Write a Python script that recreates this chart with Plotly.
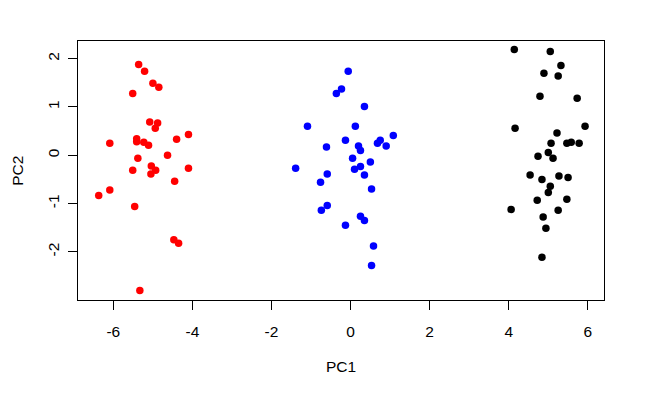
import plotly.graph_objects as go

red_x = [-5.36, -5.21, -5.00, -4.85, -5.51, -5.08, -4.88, -4.94, -4.10, -4.40,
         -6.09, -5.41, -5.41, -5.23, -5.11, -4.63, -5.38, -5.04, -4.93, -5.51,
         -5.05, -4.10, -4.45, -6.09, -6.37, -5.46, -4.47, -4.35, -5.33]
red_y = [1.88, 1.74, 1.49, 1.41, 1.28, 0.69, 0.67, 0.56, 0.43, 0.33,
         0.25, 0.34, 0.28, 0.27, 0.21, 0.00, -0.06, -0.22, -0.31, -0.31,
         -0.39, -0.27, -0.54, -0.72, -0.83, -1.06, -1.75, -1.82, -2.80]

blue_x = [-0.06, -0.23, -0.36, 0.35, -1.09, 0.12, 1.08, -0.13, 0.75, 0.68,
          0.90, -0.61, 0.20, 0.25, 0.05, 0.50, -1.39, 0.25, 0.10, -0.59,
          0.35, -0.76, 0.53, -0.59, -0.74, 0.25, 0.35, -0.13, 0.58, 0.53]
blue_y = [1.74, 1.37, 1.28, 1.01, 0.60, 0.60, 0.41, 0.31, 0.31, 0.25,
          0.19, 0.17, 0.19, 0.10, -0.06, -0.14, -0.27, -0.23, -0.29, -0.39,
          -0.41, -0.56, -0.70, -1.04, -1.14, -1.26, -1.35, -1.45, -1.88, -2.28]

black_x = [4.14, 5.05, 5.32, 4.89, 5.25, 4.79, 5.73, 4.16, 5.93, 5.22,
           5.07, 5.47, 5.58, 5.78, 5.00, 4.74, 5.12, 4.54, 4.84, 5.27,
           5.50, 5.05, 5.00, 4.72, 5.47, 4.06, 5.25, 4.87, 4.94, 4.84]
black_y = [2.19, 2.15, 1.86, 1.70, 1.64, 1.22, 1.18, 0.56, 0.60, 0.46,
           0.25, 0.25, 0.27, 0.25, 0.06, -0.02, -0.06, -0.41, -0.50, -0.43,
           -0.46, -0.64, -0.77, -0.93, -0.91, -1.12, -1.14, -1.28, -1.51, -2.11]

x_ticks = [-6, -4, -2, 0, 2, 4, 6]
y_ticks = [-2, -1, 0, 1, 2]

FONT = "Liberation Sans, Arial, sans-serif"
TITLE_FONT = dict(family=FONT, size=15.5, color="black")

fig = go.Figure()
for xs, ys, col in [(red_x, red_y, "#ff0000"), (blue_x, blue_y, "#0000ff"),
                    (black_x, black_y, "#000000")]:
    fig.add_trace(go.Scatter(x=xs, y=ys, mode="markers",
                             marker=dict(color=col, size=7.5, line=dict(width=0)),
                             showlegend=False, hoverinfo="skip"))

axis_common = dict(showgrid=False, zeroline=False, showline=True, mirror=True,
                   linecolor="black", linewidth=1, ticks="outside", ticklen=9,
                   tickcolor="black", tickwidth=1, automargin=False,
                   tickfont=dict(family=FONT, size=15.5, color="black"))

fig.update_xaxes(range=[-6.894, 6.409], tickvals=x_ticks,
                 ticktext=[str(v) for v in x_ticks], ticklabelstandoff=8,
                 title=dict(text="PC1", font=TITLE_FONT, standoff=22),
                 **axis_common)
fig.update_yaxes(range=[-2.996, 2.366], tickvals=y_ticks,
                 ticktext=[str(v) for v in y_ticks], tickangle=-90,
                 ticklabelstandoff=3,
                 **axis_common)

fig.add_annotation(text="PC2", xref="paper", yref="paper", x=-0.1155, y=0.5,
                   xanchor="center", yanchor="middle", textangle=-90,
                   showarrow=False, font=TITLE_FONT)

# the page body adds an 8px offset, compensated in the margins
fig.update_layout(width=645, height=398, autosize=False,
                  margin=dict(l=70, r=49, t=33, b=106, pad=0),
                  paper_bgcolor="white", plot_bgcolor="white")

fig.write_html("out.html")
